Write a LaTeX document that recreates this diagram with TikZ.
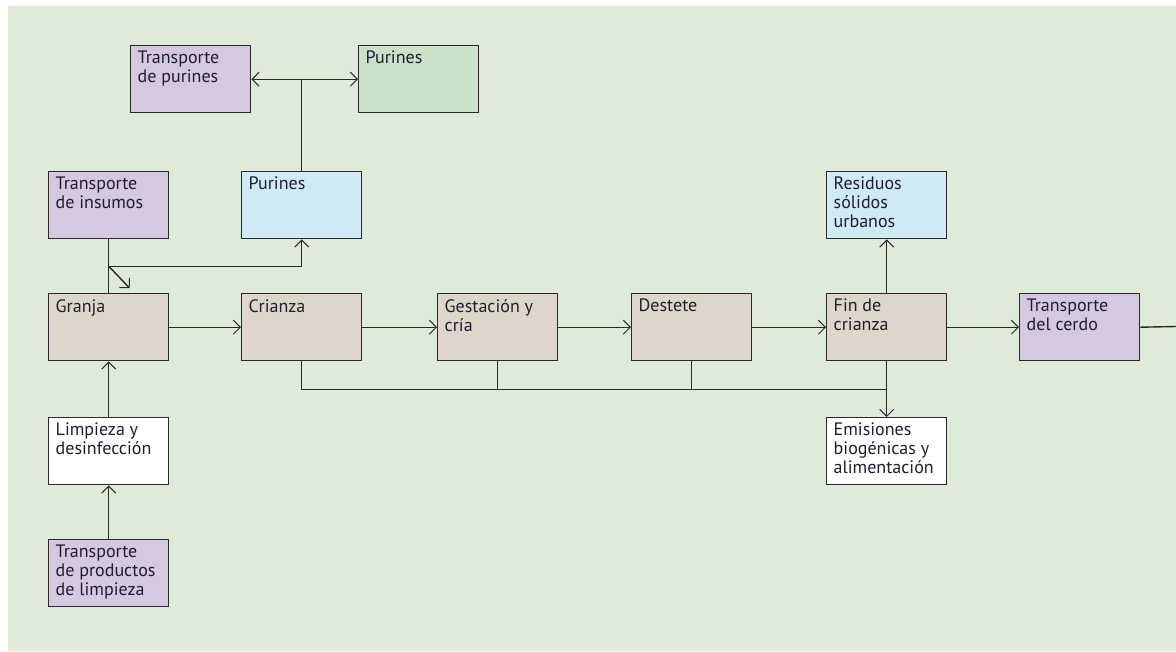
\documentclass[tikz,border=0pt]{standalone}
\usepackage{fontspec}
\setmainfont{PT Sans}
\usetikzlibrary{arrows.meta,calc}
\definecolor{bggreen}{HTML}{DDEBD8}
\definecolor{cpurple}{HTML}{D5C8E0}
\definecolor{cgreen}{HTML}{C9E2C8}
\definecolor{cblue}{HTML}{D0EAF6}
\definecolor{ctan}{HTML}{DED6CA}
\definecolor{cline}{HTML}{2A2A2A}
\definecolor{ctext}{HTML}{1E1E30}
\tikzset{
  x=1pt, y=-1pt,
  box/.style={draw=cline, line width=1.4pt, minimum width=120pt, minimum height=67pt,
    anchor=north west, inner sep=0pt,
    label={[anchor=north west, align=left, inner sep=0pt, xshift=7.5pt, yshift=-6pt,
      text=ctext, font=\fontsize{18}{19}\selectfont]north west:{#1}}},
  conn/.style={draw=cline, line width=1.4pt},
  arr/.style={conn, -{Straight Barb[length=7pt,width=14pt,line width=1pt]}},
  darr/.style={conn, {Straight Barb[length=7pt,width=14pt,line width=1pt]}-{Straight Barb[length=7pt,width=14pt,line width=1pt]}},
}
\begin{document}
\begin{tikzpicture}
\useasboundingbox (0,0) rectangle (1176,651);
\fill[white] (0,0) rectangle (1176,651);
\fill[bggreen] (8,6) rectangle (1176,651);

\node[box={Transporte\\de purines}, fill=cpurple] (tpur) at (130,45) {};
\node[box={Purines}, fill=cgreen] (pur2) at (358,45) {};
\node[box={Transporte\\de insumos}, fill=cpurple] (ins) at (48,171) {};
\node[box={Purines}, fill=cblue] (pur1) at (241,171) {};
\node[box={Residuos\\sólidos\\urbanos}, fill=cblue] (rsu) at (826,171) {};
\node[box={Granja}, fill=ctan] (granja) at (48,293) {};
\node[box={Crianza}, fill=ctan] (crianza) at (241,293) {};
\node[box={Gestación y\\cría}, fill=ctan] (gest) at (437,293) {};
\node[box={Destete}, fill=ctan] (dest) at (631,293) {};
\node[box={Fin de\\crianza}, fill=ctan] (fin) at (826,293) {};
\node[box={Transporte\\del cerdo}, fill=cpurple] (tcer) at (1019,293) {};
\node[box={Limpieza y\\desinfección}, fill=white] (limp) at (48,417) {};
\node[box={Emisiones\\biogénicas y\\alimentación}, fill=white] (emi) at (826,417) {};
\node[box={Transporte\\de productos\\de limpieza}, fill=cpurple] (tprod) at (48,539) {};

\coordinate (edge) at (1176,326.5);

% top connections
\draw[darr] (tpur.east) -- (pur2.west);
\draw[conn] (pur1.north) -- (pur1.north |- tpur.east);

% insumos
\coordinate (j) at ($(ins.south)!0.5!(granja.north)$);
\draw[conn] (ins.south) -- (granja.north);
\draw[arr] (j) -- (j -| pur1.south) -- (pur1.south);
\draw[arr] (j) -- ++(21,22);

% main chain
\draw[arr] (granja.east) -- (crianza.west);
\draw[arr] (crianza.east) -- (gest.west);
\draw[arr] (gest.east) -- (dest.west);
\draw[arr] (dest.east) -- (fin.west);
\draw[arr] (fin.east) -- (tcer.west);
\draw[conn] (tcer.east) -- (edge);
\draw[arr] (fin.north) -- (rsu.south);

% bus
\coordinate (bus) at ($(fin.south)!0.5!(emi.north)$);
\draw[conn] (crianza.south) -- (crianza.south |- bus) -- (bus);
\draw[conn] (gest.south) -- (gest.south |- bus);
\draw[conn] (dest.south) -- (dest.south |- bus);
\draw[arr] (fin.south) -- (emi.north);

% lower
\draw[arr] (limp.north) -- (granja.south);
\draw[arr] (tprod.north) -- (limp.south);
\end{tikzpicture}
\end{document}
